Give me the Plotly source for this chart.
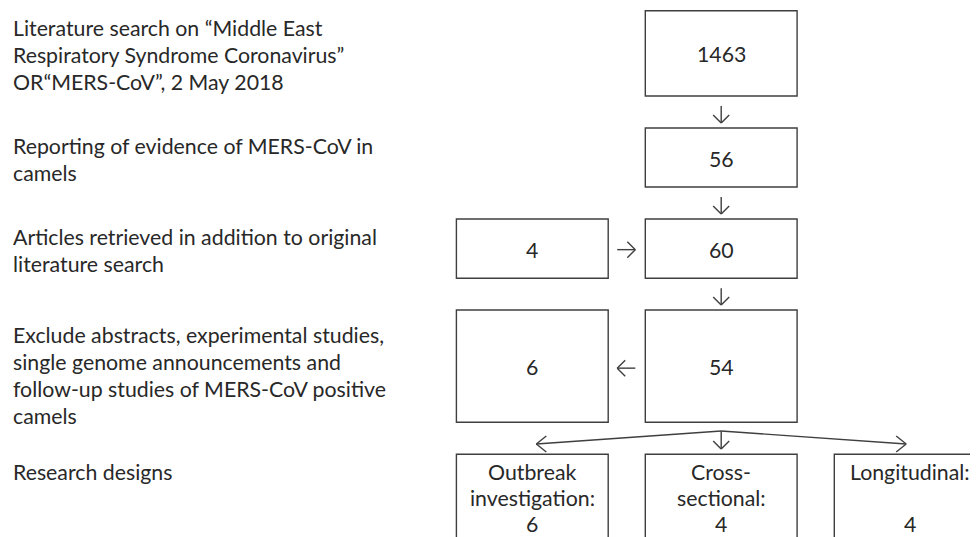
import plotly.graph_objects as go

# ---- data ----
step_labels = [
    ["Literature search on \u201cMiddle East", "Respiratory Syndrome Coronavirus\u201d", "OR\u201cMERS-CoV\u201d, 2 May 2018"],
    ["Reporting of evidence of MERS-CoV in", "camels"],
    ["Articles retrieved in addition to original", "literature search"],
    ["Exclude abstracts, experimental studies,", "single genome announcements and", "follow-up studies of MERS-CoV positive", "camels"],
    ["Research designs"],
]
main_counts = [1463, 56, 60, 54]
added_count = 4
excluded_count = 6
design_names = [["Outbreak", "investigation:"], ["Cross-", "sectional:"], ["Longitudinal:", ""]]
design_counts = [6, 4, 4]

# ---- layout constants (page pixel coordinates) ----
W, H = 978, 537
PAGE_MARGIN = 8          # default body margin of the html page
FONT = "Lato"
FS = 21.3
TXT = "#282828"
LINE = "#3f3f3f"
LW = 1.4
LH = 27

label_first_y = [28, 146, 237, 335, 471.5]
col_cx = [532.3, 721.2, 910.2]
half_w = 75.9
main_boxes_y = [(10.7, 96), (128, 187), (219, 278.3), (310, 422.3)]
design_top = 454.3

shapes = []
ann = []


def box(cx, y0, y1):
    shapes.append(dict(type="rect", xref="x", yref="y", x0=cx - half_w, y0=y0,
                       x1=cx + half_w, y1=y1,
                       line=dict(color=LINE, width=LW), fillcolor="rgba(0,0,0,0)"))


def seg(x0, y0, x1, y1):
    shapes.append(dict(type="line", xref="x", yref="y", x0=x0, y0=y0, x1=x1, y1=y1,
                       line=dict(color=LINE, width=LW)))


def text(x, y, s, anchor="center"):
    ann.append(dict(x=x, y=y, xref="x", yref="y", text=s, showarrow=False,
                    xanchor=anchor, yanchor="middle",
                    font=dict(family=FONT, size=FS, color=TXT)))


# left labels
for lines, y0 in zip(step_labels, label_first_y):
    for i, ln in enumerate(lines):
        text(11, y0 + i * LH, ln, anchor="left")

main_cx = col_cx[1]
side_cx = col_cx[0]

# main column boxes
for (y0, y1), n in zip(main_boxes_y, main_counts):
    box(main_cx, y0, y1)
    text(main_cx, (y0 + y1) / 2 + 1, str(n))

# side boxes
y0, y1 = main_boxes_y[2]
box(side_cx, y0, y1)
text(side_cx, (y0 + y1) / 2 + 1, str(added_count))
y0, y1 = main_boxes_y[3]
box(side_cx, y0, y1)
text(side_cx, (y0 + y1) / 2 + 1, str(excluded_count))


def arrow_down(x, ya, yb, h=8):
    seg(x, ya, x, yb)
    seg(x - h, yb - h, x, yb)
    seg(x + h, yb - h, x, yb)


def arrow_h(xa, xb, y, h=8):
    seg(xa, y, xb, y)
    d = 1 if xb > xa else -1
    seg(xb - d * h, y - h, xb, y)
    seg(xb - d * h, y + h, xb, y)


# vertical arrows between main boxes
for k in range(3):
    top = main_boxes_y[k][1]
    bot = main_boxes_y[k + 1][0]
    arrow_down(main_cx, top + 10, bot - 5)

# horizontal arrows
gap_l = side_cx + half_w + 9
gap_r = main_cx - half_w - 10
arrow_h(gap_l, gap_r, (main_boxes_y[2][0] + main_boxes_y[2][1]) / 2 + 1)
arrow_h(gap_r, gap_l, (main_boxes_y[3][0] + main_boxes_y[3][1]) / 2 + 2)

# branch to designs
by = 431
arrow_down(main_cx, by, 449)
for tx in (col_cx[0] + 4, col_cx[2] - 4):
    ty = 444
    seg(main_cx, by, tx, ty)
    d = 1 if tx > main_cx else -1
    seg(tx - d * 10, ty - 8, tx, ty)
    seg(tx - d * 10, ty + 8, tx, ty)

# design boxes
for cx, nm, n in zip(col_cx, design_names, design_counts):
    box(cx, design_top, design_top + 120)
    lines = nm + [str(n)]
    for i, ln in enumerate(lines):
        if ln:
            text(cx, 471.5 + i * 26, ln)

fig = go.Figure()
fig.update_layout(
    width=W - PAGE_MARGIN, height=H - PAGE_MARGIN,
    margin=dict(l=0, r=0, t=0, b=0),
    paper_bgcolor="white", plot_bgcolor="white",
    xaxis=dict(range=[PAGE_MARGIN, W], visible=False, fixedrange=True),
    yaxis=dict(range=[H, PAGE_MARGIN], visible=False, fixedrange=True),
    shapes=shapes, annotations=ann, showlegend=False,
)
fig.write_html("out.html")
